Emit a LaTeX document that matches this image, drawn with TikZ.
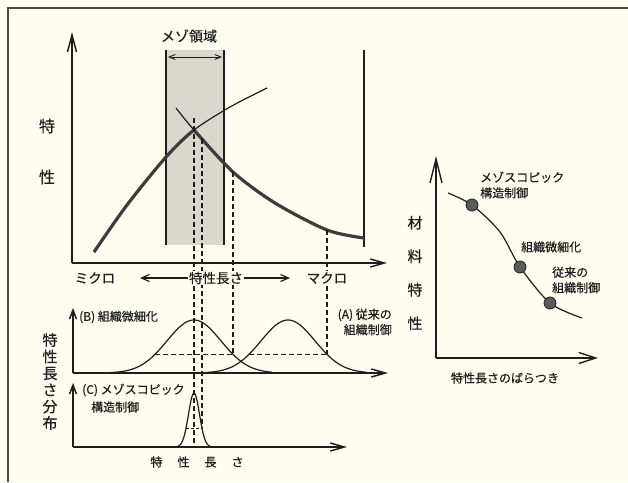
\documentclass[tikz,border=0pt]{standalone}
\usepackage{fontspec}
\setmainfont{Noto Sans CJK JP}[FakeBold=0.5]
\usetikzlibrary{arrows.meta,positioning,calc}
\definecolor{Paper}{HTML}{FEFEF0}
\definecolor{Ink}{HTML}{1E1E1E}
\definecolor{Heavy}{HTML}{3C3C3C}
\definecolor{Band}{HTML}{D8D8CE}
\definecolor{Blob}{HTML}{5A5A5A}
\definecolor{Frame}{HTML}{4A4A4A}

\begin{document}
\begin{tikzpicture}[x=1pt,y=-1pt,
    ax/.style={-{Straight Barb[length=14pt,width=8pt]},line width=1.5pt,draw=Ink},
    yax/.style={-{Straight Barb[length=17pt,width=9pt]},line width=1.5pt,draw=Ink},
    sax/.style={-{Straight Barb[length=9pt,width=7pt]},line width=1.5pt,draw=Ink},
    ln/.style={line width=1.2pt,draw=Ink},
    heavy/.style={line width=3.2pt,draw=Heavy},
    dsh/.style={dash pattern=on 5pt off 3pt,line width=1.3pt,draw=Ink},
    lbl/.style={font=\fontsize{12}{15.5}\selectfont,inner sep=0pt,text=Ink},
    lblm/.style={font=\fontsize{13.5}{15}\selectfont,inner sep=0pt,text=Ink},
    big/.style={font=\fontsize{15}{16.6}\selectfont,inner sep=0pt,align=center,text=Ink},
    blob/.style={circle,draw=Ink,fill=Blob,minimum size=12pt,inner sep=0pt,line width=0.8pt}]
  \fill[Paper] (0,0) rectangle (628,482);
  \useasboundingbox (0,0) rectangle (628,482);
  \draw[Frame,line width=1.4pt] (8,482) -- (8,8) -- (628,8);

  % upper plot
  \fill[Band] (166,50) rectangle (224,245);
  \draw[line width=1.8pt,draw=Ink] (166,50) -- (166,245) (224,50) -- (224,245) (364,50) -- (364,247);
  \coordinate (o) at (72,263);
  \coordinate (ytop) at (72,32);
  \coordinate (xend) at (387,263);
  \draw[yax] (o) -- (ytop);
  \draw[ax] (o) -- (xend);
  \coordinate (mL) at (168,57);
  \coordinate (mR) at (222,57);
  \draw[{Straight Barb[length=6pt,width=5pt]}-{Straight Barb[length=6pt,width=5pt]},line width=0.9pt,draw=Ink] (mL) -- (mR);
  \node[lblm,font=\fontsize{14}{15}\selectfont] (meso) at (189,36) {メゾ領域};

  \draw[ln] plot[smooth] coordinates {(94,252) (127,205) (166,157) (194,130) (230,107) (267,88)};
  \draw[ln] plot[smooth] coordinates {(176,108) (194,130) (233,172) (275,203) (327,230) (364,238)};
  \begin{scope}
    \clip (0,0) rectangle (194,482);
    \draw[heavy] plot[smooth] coordinates {(94,252) (127,205) (166,157) (194,130) (230,107) (267,88)};
  \end{scope}
  \begin{scope}
    \clip (194,0) rectangle (628,482);
    \draw[heavy] plot[smooth] coordinates {(176,108) (194,130) (233,172) (275,203) (327,230) (364,238)};
  \end{scope}

  \draw[dsh] (194,118) -- (194,447);
  \draw[dsh] (202,139) -- (202,428.3);
  \draw[dsh] (233,172) -- (233,354.3);
  \draw[dsh] (327,230) -- (327,354.3);

  \node[big,font=\fontsize{16}{51}\selectfont] (prop) at (47,151.5) {特\\性};
  \node[lblm,fill=Paper,inner sep=1pt] (micro) at (95,278) {ミクロ};
  \node[lblm,fill=Paper,inner sep=1pt] (clen) at (216,278) {特性長さ};
  \node[lblm,fill=Paper,inner sep=1pt] (macro) at (327,278) {マクロ};
  \coordinate (cL) at (140,278);
  \coordinate (cR) at (290,278);
  \draw[ln,-{Straight Barb[length=8pt,width=7pt]}] (clen) -- (cL);
  \draw[ln,-{Straight Barb[length=8pt,width=7pt]}] (clen) -- (cR);

  % distributions (B), (A)
  \coordinate (ob) at (73,373);
  \coordinate (byt) at (73,308);
  \coordinate (bxe) at (388,373);
  \draw[sax] (ob) -- (byt);
  \draw[ax] (ob) -- (bxe);
  \draw[ln] plot[domain=110:272,samples=90] (\x,{373-53*exp(-((\x-194)^2)/1458)});
  \draw[ln] plot[domain=205:366,samples=90] (\x,{373-53*exp(-((\x-288)^2)/1458)});
  \draw[dsh] (155,354.3) -- (233,354.3);
  \draw[dsh] (249,354.3) -- (327,354.3);
  \node[lbl,anchor=west] (bLbl) at (79,317) {(B) 組織微細化};
  \node[lbl,align=right,anchor=east] (aLbl) at (392,322) {(A) 従来の\\組織制御};

  % distribution (C)
  \coordinate (oc) at (73,447);
  \coordinate (cyt) at (73,383);
  \coordinate (cxe) at (347,447);
  \draw[sax] (oc) -- (cyt);
  \draw[ax] (oc) -- (cxe);
  \draw[ln] plot[domain=174:214,samples=80] (\x,{447-54*exp(-((\x-194)^2)/60.5)});
  \draw[dsh,dash pattern=on 3pt off 2pt] (186,428.3) -- (202,428.3);
  \node[lbl,anchor=west] (cLbl) at (82,390) {(C) メゾスコピック};
  \node[lbl,anchor=west] (cLbl2) at (91,407) {構造制御};
  \node[lbl] (blen) at (197,462) {特\hspace{15pt}性\hspace{15pt}長\hspace{15pt}さ};
  \node[big] (dist) at (50,381.5) {特\\性\\長\\さ\\分\\布};

  % material property vs spread
  \coordinate (or) at (436,358);
  \coordinate (ryt) at (436,156);
  \coordinate (rxe) at (598,358);
  \draw[-{Straight Barb[length=24pt,width=12pt]},line width=1.4pt,draw=Ink] (or) -- (ryt);
  \draw[-{Straight Barb[length=17pt,width=11pt]},line width=1.4pt,draw=Ink] (or) -- (rxe);
  \draw[ln] plot[smooth] coordinates {(448,193) (472,205) (500,232) (520,267) (550,303) (582,318)};
  \node[blob] (dA) at (472,205) {};
  \node[blob] (dB) at (520,267) {};
  \node[blob] (dC) at (550,303) {};
  \node[lbl,align=left,anchor=west] (rMeso) at (480,185) {メゾスコピック\\構造制御};
  \node[lbl,anchor=west] (rFine) at (521,247) {組織微細化};
  \node[lbl,align=left,anchor=west] (rConv) at (552,280) {従来の\\組織制御};
  \node[big,font=\fontsize{15}{33.5}\selectfont] (mat) at (415,273) {材\\料\\特\\性};
  \node[lbl] (spread) at (505,378) {特性長さのばらつき};
\end{tikzpicture}
\end{document}
